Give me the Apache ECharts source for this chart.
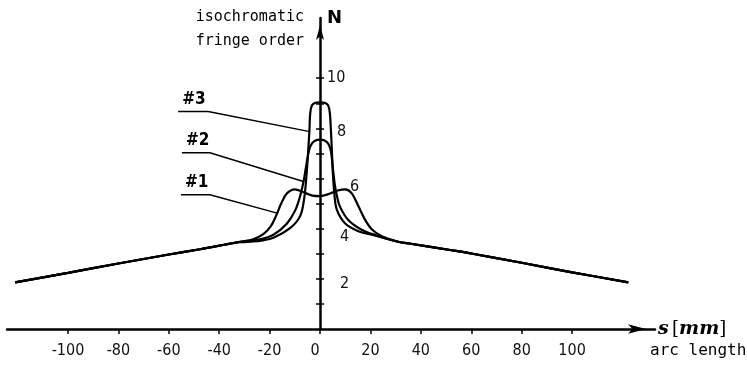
<!DOCTYPE html>
<html>
<head>
<meta charset="utf-8">
<script src="https://cdn.jsdelivr.net/npm/echarts@6/dist/echarts.min.js"></script>
<style>
  html, body { margin: 0; padding: 0; background: #fff; }
  #chart { width: 747px; height: 368px; }
</style>
</head>
<body>
<div id="chart"></div>
<script>
// s = arc length [mm], N = isochromatic fringe order
var baseLeft = [[-121, 1.86], [-100, 2.24], [-80, 2.61], [-60, 2.97], [-47.6, 3.18], [-38, 3.36]];
var baseRight = [[36, 3.4], [51.6, 3.15], [60, 3.01], [80, 2.64], [100, 2.26], [122.3, 1.86]];

var core1 = [[-31.7, 3.48], [-26.5, 3.58], [-22.5, 3.78], [-19.5, 4.1], [-17.5, 4.5], [-15.5, 4.98],
  [-13.2, 5.4], [-10, 5.57], [-6.5, 5.45], [-3, 5.32], [0, 5.3], [4, 5.4], [7, 5.52], [10, 5.57],
  [12.6, 5.41], [15.2, 4.9], [17.9, 4.35], [20.5, 3.98], [24.5, 3.7], [31, 3.48]];

var core2 = [[-31.7, 3.48], [-23.8, 3.58], [-18.5, 3.76], [-13.2, 4.2], [-9.9, 4.72], [-7.9, 5.3],
  [-6.6, 5.85], [-5.5, 6.5], [-4.3, 7.15], [-3.2, 7.4], [-1.8, 7.52], [0, 7.55], [1.8, 7.52],
  [3.2, 7.4], [4.3, 7.1], [5.1, 6.4], [5.8, 5.8], [6.6, 5.35], [7.9, 4.88], [11.2, 4.35],
  [16.5, 3.96], [21.8, 3.75], [31, 3.48]];

var core3 = [[-31.7, 3.46], [-25, 3.5], [-18.5, 3.64], [-11.9, 4.02], [-7.9, 4.5], [-6.3, 5.2],
  [-5.4, 6.1], [-4.7, 7.1], [-4.2, 7.95], [-3.9, 8.6], [-3.2, 8.92], [-1.8, 9.02], [0, 9.04],
  [1.8, 9.02], [3.2, 8.92], [3.9, 8.6], [4.3, 7.95], [4.7, 7.1], [5.1, 6.2], [5.6, 5.5],
  [6.6, 4.78], [9.9, 4.22], [15.2, 3.9], [20.5, 3.76], [31, 3.48]];

// leader lines from the curve names
var curveNames = ['#1', '#2', '#3'];
var lead1 = [[-55.2, 5.35], [-43.7, 5.35], [-17, 4.62]];
var lead2 = [[-54.8, 7.03], [-43.7, 7.03], [-6.6, 5.88]];
var lead3 = [[-56.3, 8.67], [-44.4, 8.67], [-4.1, 7.87]];

var xTicks = [-100, -80, -60, -40, -20, 0, 20, 40, 60, 80, 100];
var yTicks = [1, 2, 3, 4, 5, 6, 7, 8, 9, 10];
var yLabels = [2, 4, 6, 8, 10];

var numFont = "'DejaVu Sans Condensed', 'Liberation Sans Narrow', 'Roboto Condensed', 'DejaVu Sans', sans-serif";
var monoFont = "'DejaVu Sans Mono', 'Liberation Mono', monospace";

var myChart = echarts.init(document.getElementById('chart'));

function curveSeries(core) {
  return {
    type: 'line',
    data: baseLeft.concat(core, baseRight),
    smooth: 0.35,
    showSymbol: false,
    lineStyle: { color: '#000', width: 2.2 },
    z: 3
  };
}

function leaderSeries(pts, name) {
  return {
    type: 'line',
    data: pts.map(function (p, i) {
      if (i === 0) {
        return {
          value: p,
          label: {
            show: true,
            formatter: name,
            position: 'top',
            align: 'left',
            offset: [4, 0],
            distance: 3,
            fontSize: 17,
            fontWeight: 'bold',
            fontFamily: numFont,
            color: '#000'
          }
        };
      }
      return p;
    }),
    showSymbol: true,
    symbol: 'circle',
    symbolSize: 1,
    itemStyle: { color: 'rgba(0,0,0,0)' },
    lineStyle: { color: '#000', width: 1.5 },
    z: 2
  };
}

var option = {
  animation: false,
  backgroundColor: '#fff',
  grid: [
    { left: 7, right: 92, top: 18, bottom: 39 },
    // second grid starts at s = 0, it only carries the right-hand ticks and the N labels
    { left: 320, right: 92, top: 18, bottom: 39 }
  ],
  xAxis: [
    {
      type: 'value',
      gridIndex: 0,
      min: -124.2,
      max: 132.9,
      name: '{b|s} {r|[}{b|mm}{r|]}',
      nameLocation: 'end',
      nameGap: 3,
      nameTextStyle: {
        rich: {
          b: { fontFamily: "'DejaVu Serif', 'Liberation Serif', serif", fontStyle: 'italic', fontWeight: 'bold', fontSize: 19, color: '#000' },
          r: { fontFamily: "'DejaVu Serif', 'Liberation Serif', serif", fontSize: 18, color: '#000' }
        }
      },
      splitLine: { show: false },
      axisLine: {
        onZero: true,
        lineStyle: { color: '#000', width: 2.5 },
        symbol: ['none', 'arrow'],
        symbolSize: [7, 18],
        symbolOffset: [0, -9]
      },
      axisTick: { show: true, customValues: xTicks, length: 5, lineStyle: { color: '#000', width: 1.5 } },
      axisLabel: {
        customValues: xTicks,
        margin: 14,
        fontSize: 16,
        fontFamily: numFont,
        color: '#111',
        formatter: function (v) {
          return v === 0 ? '{z|0}' : String(v);
        },
        rich: { z: { fontSize: 16, fontFamily: numFont, color: '#111', padding: [0, 10, 14, 0] } }
      }
    },
    {
      type: 'value',
      gridIndex: 1,
      min: 0,
      max: 132.9,
      axisLine: { show: false },
      axisTick: { show: false },
      axisLabel: { show: false },
      splitLine: { show: false }
    }
  ],
  yAxis: [
    {
      type: 'value',
      gridIndex: 0,
      min: 0,
      max: 12.4,
      position: 'left',
      name: 'N',
      nameLocation: 'end',
      nameGap: -9,
      nameTextStyle: { align: 'left', padding: [0, 0, 0, 7], fontSize: 18, fontWeight: 'bold', fontFamily: "'DejaVu Sans', sans-serif", color: '#000' },
      splitLine: { show: false },
      axisLine: {
        onZero: true,
        lineStyle: { color: '#000', width: 2.5 },
        symbol: ['none', 'arrow'],
        symbolSize: [6, 15],
        symbolOffset: [0, -7]
      },
      axisTick: { show: true, customValues: yTicks, length: 4, lineStyle: { color: '#000', width: 1.5 } },
      axisLabel: { show: false }
    },
    {
      type: 'value',
      gridIndex: 1,
      min: 0,
      max: 12.4,
      position: 'left',
      splitLine: { show: false },
      axisLine: { show: false, onZero: false },
      axisTick: { show: true, inside: true, customValues: yTicks, length: 4, lineStyle: { color: '#000', width: 1.5 } },
      axisLabel: {
        inside: true,
        customValues: yLabels,
        margin: 7,
        fontSize: 16,
        fontFamily: numFont,
        color: '#111',
        formatter: function (v) {
          return '{y' + v + '|' + v + '}';
        },
        rich: {
          y10: { fontSize: 16, fontFamily: numFont, color: '#111' },
          y8: { fontSize: 16, fontFamily: numFont, color: '#111', padding: [6, 0, 0, 10] },
          y6: { fontSize: 16, fontFamily: numFont, color: '#111', padding: [16, 0, 0, 23] },
          y4: { fontSize: 16, fontFamily: numFont, color: '#111', padding: [16, 0, 0, 13] },
          y2: { fontSize: 16, fontFamily: numFont, color: '#111', padding: [10, 0, 0, 13] }
        }
      }
    }
  ],
  graphic: [
    {
      type: 'text',
      right: 443,
      top: 5,
      style: {
        text: 'isochromatic\nfringe order',
        font: '15px ' + monoFont,
        fill: '#000',
        lineHeight: 24,
        align: 'right'
      }
    },
    {
      type: 'text',
      left: 650,
      top: 343,
      style: { text: 'arc length', font: '16px ' + monoFont, fill: '#000' }
    }
  ],
  series: [
    curveSeries(core1),
    curveSeries(core2),
    curveSeries(core3),
    leaderSeries(lead1, curveNames[0]),
    leaderSeries(lead2, curveNames[1]),
    leaderSeries(lead3, curveNames[2])
  ]
};

option && myChart.setOption(option);
</script>
</body>
</html>
